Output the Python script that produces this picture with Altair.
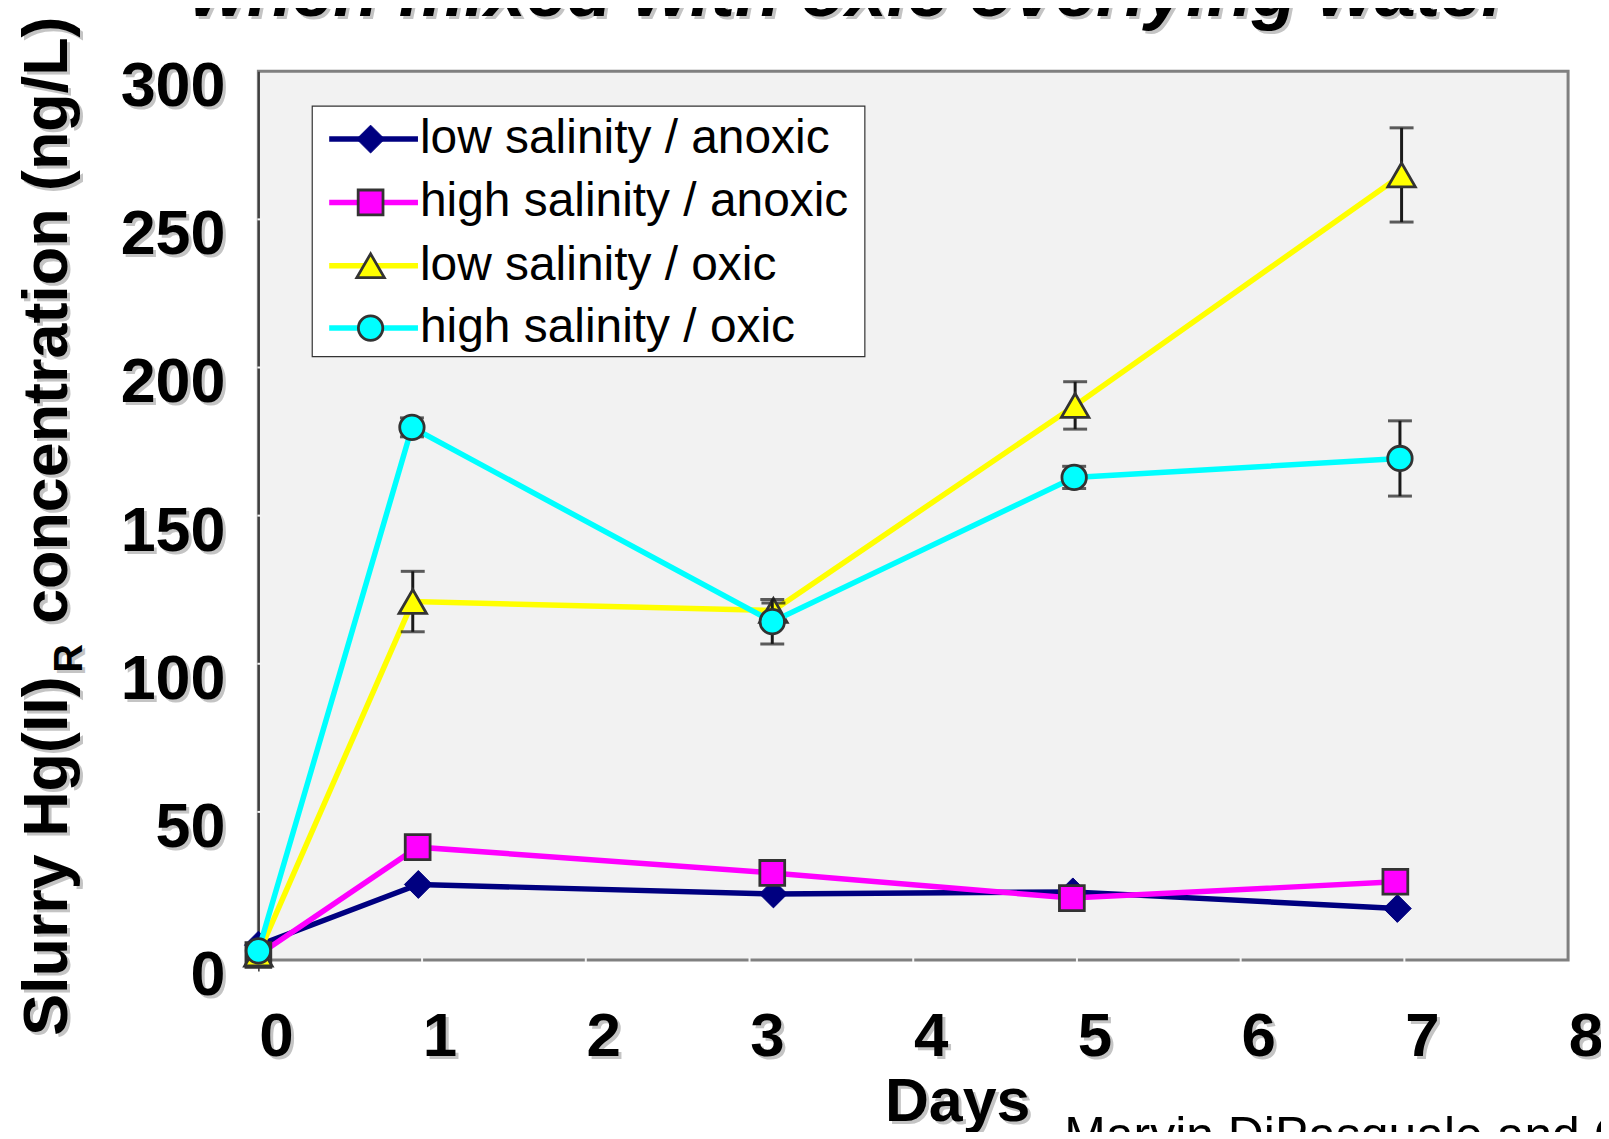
import altair as alt
import pandas as pd

# ---------------- data ----------------
series_names = ["low salinity / anoxic", "high salinity / anoxic",
                "low salinity / oxic", "high salinity / oxic"]
series_colors = ["#000080", "#ff00ff", "#ffff00", "#00ffff"]
series_shapes = ["diamond", "square", "triangle-up", "circle"]

days_low_anoxic = [0, 0.977, 3.146, 4.975, 6.957]
hg_low_anoxic = [5.0, 25.5, 22.3, 23.0, 17.4]
err_low_anoxic = [0, 0, 0, 0, 0]

days_high_anoxic = [0, 0.973, 3.139, 4.969, 6.945]
hg_high_anoxic = [1.7, 38.1, 29.4, 20.9, 26.4]
err_high_anoxic = [0, 0, 0, 0, 0]

days_low_oxic = [0, 0.943, 3.146, 4.989, 6.983]
hg_low_oxic = [2.0, 121.0, 118.0, 187.2, 265.0]
err_low_oxic = [0, 10.2, 2.5, 8.0, 15.9]

days_high_oxic = [0, 0.938, 3.139, 4.983, 6.973]
hg_high_oxic = [3.1, 179.8, 114.2, 162.9, 169.3]
err_high_oxic = [0, 3.2, 7.5, 3.75, 12.7]

y_ticks = [0, 50, 100, 150, 200, 250, 300]
x_ticks = [0, 1, 2, 3, 4, 5, 6, 7, 8]

title_text = "when mixed with oxic overlying water"
y_title_main = "Slurry Hg(II)"
y_title_sub = "R"
y_title_rest = "concentration (ng/L)"
x_title = "Days"
credit_text = "Marvin DiPasquale and C"

all_days = [days_low_anoxic, days_high_anoxic, days_low_oxic, days_high_oxic]
all_hg = [hg_low_anoxic, hg_high_anoxic, hg_low_oxic, hg_high_oxic]
all_err = [err_low_anoxic, err_high_anoxic, err_low_oxic, err_high_oxic]

# ---------------- layout ----------------
W, H = 1313, 891
FONT = "Liberation Sans"
SHADOW = "#c4c4c4"
MARK_STROKE = "#333333"
MARKER_SIZE = {"diamond": 780, "square": 620, "triangle-up": 760, "circle": 600}

xs = alt.Scale(domain=[0, 8], nice=False, zero=False)
ys = alt.Scale(domain=[0, 300], nice=False, zero=False)
x_axis = alt.Axis(labels=False, domain=False, grid=False, title=None,
                  values=[0], ticks=True, tickColor="#333333", tickSize=11, tickWidth=1.5)
y_axis = alt.Axis(labels=False, ticks=False, grid=False, title=None,
                  domainColor="#404040", domainWidth=2)


def X(field):
    return alt.X(field, type="quantitative", scale=xs, axis=x_axis)


def Y(field):
    return alt.Y(field, type="quantitative", scale=ys, axis=y_axis)


def marker(data, shp, col):
    if shp == "diamond":
        return alt.Chart(data).mark_point(shape=shp, filled=True, fill=col, stroke=col,
                                          strokeWidth=1, size=MARKER_SIZE[shp], opacity=1)
    return alt.Chart(data).mark_point(shape=shp, filled=True, fill=col, stroke=MARK_STROKE,
                                      strokeWidth=2.8, size=MARKER_SIZE[shp], opacity=1)


one = pd.DataFrame({"k": [0]})
layers = []

# faint tick notches on the frame
xt = pd.DataFrame({"v": x_ticks[1:-1]})
yt = pd.DataFrame({"v": y_ticks[1:-1]})
layers.append(alt.Chart(xt).mark_rule(color="#f4f4f4", strokeWidth=2).encode(
    x=X("v"), y=alt.value(H - 3), y2=alt.value(H + 2)))

# series
for name, col, shp, d, v, e in zip(series_names, series_colors, series_shapes,
                                   all_days, all_hg, all_err):
    df = pd.DataFrame({"day": d, "hg": v, "err": e})
    df["lo"] = df["hg"] - df["err"]
    df["hi"] = df["hg"] + df["err"]
    layers.append(alt.Chart(df).mark_line(color=col, strokeWidth=5.5).encode(x=X("day"), y=Y("hg")))
    dfe = df[df["err"] > 0]
    if len(dfe):
        layers.append(alt.Chart(dfe).mark_rule(color="#1a1a1a", strokeWidth=3).encode(
            x=X("day"), y=Y("lo"), y2="hi"))
        for f in ["lo", "hi"]:
            layers.append(alt.Chart(dfe).mark_tick(color="#1a1a1a", orient="horizontal",
                                                   size=24, thickness=3).encode(x=X("day"), y=Y(f)))
    layers.append(marker(df, shp, col).encode(x=X("day"), y=Y("hg")))

layers.append(alt.Chart(yt).mark_rule(color="#f4f4f4", strokeWidth=2).encode(
    y=Y("v"), x=alt.value(-1), x2=alt.value(3)))

# tick labels with shadow
ylab = pd.DataFrame({"v": y_ticks, "t": [str(t) for t in y_ticks]})
xlab = pd.DataFrame({"v": x_ticks, "t": [str(t) for t in x_ticks]})
for colr, off in [(SHADOW, 3), ("black", 0)]:
    layers.append(alt.Chart(ylab).mark_text(
        align="right", baseline="alphabetic", font=FONT, fontWeight="bold", fontSize=63,
        color=colr, dx=off, dy=35 + off).encode(x=alt.value(-33), y=Y("v"), text="t:N"))
    layers.append(alt.Chart(xlab).mark_text(
        align="center", baseline="alphabetic", font=FONT, fontWeight="bold", fontSize=62,
        color=colr, dx=18 + off, dy=off).encode(x=X("v"), y=alt.value(H + 96), text="t:N"))

# titles with shadow
for colr, off in [(SHADOW, 3), ("black", 0)]:
    layers.append(alt.Chart(one).mark_text(
        text=y_title_main, angle=270, align="left", baseline="alphabetic", font=FONT,
        fontWeight="bold", fontSize=63, color=colr).encode(
        x=alt.value(-192 + off), y=alt.value(967 + off)))
    layers.append(alt.Chart(one).mark_text(
        text=y_title_sub, angle=270, align="left", baseline="alphabetic", font=FONT,
        fontWeight="bold", fontSize=40, color=colr).encode(
        x=alt.value(-177 + off), y=alt.value(603 + off)))
    layers.append(alt.Chart(one).mark_text(
        text=y_title_rest, angle=270, align="left", baseline="alphabetic", font=FONT,
        fontWeight="bold", fontSize=63, color=colr).encode(
        x=alt.value(-192 + off), y=alt.value(554 + off)))
    layers.append(alt.Chart(one).mark_text(
        text=x_title, align="center", baseline="alphabetic", font=FONT,
        fontWeight="bold", fontSize=61, color=colr).encode(
        x=alt.value(701 + off), y=alt.value(1052 + off)))
    layers.append(alt.Chart(one).mark_text(
        text=title_text, align="center", baseline="alphabetic",
        font=FONT, fontWeight="bold", fontStyle="italic",
        fontSize=74, color=colr).encode(
        x=alt.value(593 + off), y=alt.value(-55 + off)))

layers.append(alt.Chart(one).mark_text(
    text=credit_text, align="left", baseline="alphabetic", font=FONT, fontSize=50,
    color="black").encode(x=alt.value(808), y=alt.value(1083)))

# legend
layers.append(alt.Chart(one).mark_rect(fill="white", stroke="#333333", strokeWidth=1.2).encode(
    x=alt.value(54), x2=alt.value(608), y=alt.value(35), y2=alt.value(286)))
row_y = [68, 131.5, 195, 257.5]
for name, col, shp, ry in zip(series_names, series_colors, series_shapes, row_y):
    layers.append(alt.Chart(one).mark_rule(color=col, strokeWidth=5.5).encode(
        x=alt.value(71), x2=alt.value(160), y=alt.value(ry)))
    layers.append(marker(one, shp, col).encode(x=alt.value(112.5), y=alt.value(ry)))
    layers.append(alt.Chart(one).mark_text(
        text=name, align="left", baseline="alphabetic", font=FONT, fontSize=48,
        color="black").encode(x=alt.value(162), y=alt.value(ry + 14)))

chart = alt.layer(*layers).properties(
    width=W, height=H,
    autosize=alt.AutoSizeParams(type="none"),
    padding={"left": 251, "top": 62, "right": 33, "bottom": 171},
    background="white",
).configure_view(fill="#f2f2f2", stroke="#808080", strokeWidth=3)

chart.save("out.html", embed_options={"renderer": "svg", "actions": False})
